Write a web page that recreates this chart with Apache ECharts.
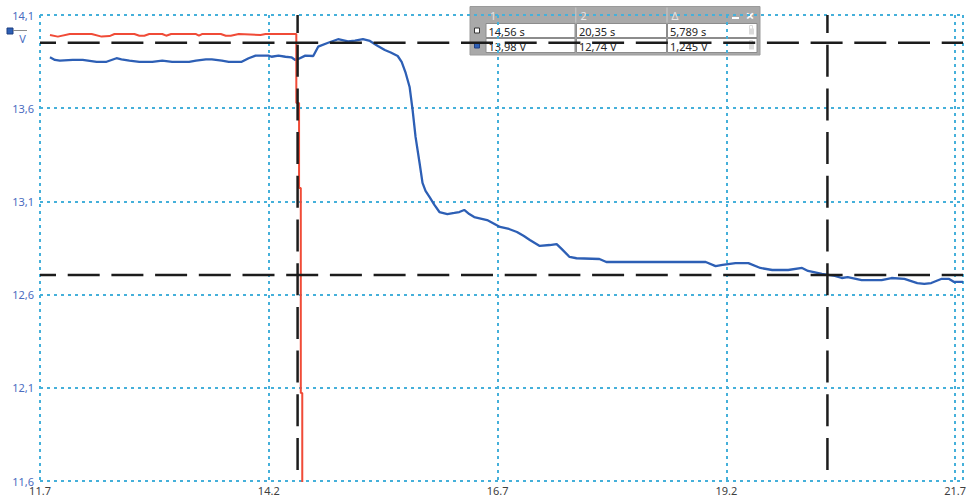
<!DOCTYPE html>
<html>
<head>
<meta charset="utf-8">
<style>
  html, body { margin: 0; padding: 0; background: #ffffff; }
  #chart { width: 969px; height: 498px; }
</style>
<script src="https://cdn.jsdelivr.net/npm/echarts@6/dist/echarts.min.js"></script>
</head>
<body>
<div id="chart"></div>
<script>
// ---- axis origin and tick labels ----
const T0 = 11.7;          // time at left edge of grid (s)
const V0 = 11.6;          // voltage at bottom of grid (V)
const T_STEP = 2.5;
const V_STEP = 0.5;
const T_MAX = 10.087;     // visible time span past T0
const xTickLabels = ['11.7', '14.2', '16.7', '19.2', '21.7'];
const yTickLabels = ['11,6', '12,1', '12,6', '13,1', '13,6', '14,1'];

// ---- blue trace (time s, volt V) ----
const blueTime = [11.809, 11.863, 11.917, 12.058, 12.167, 12.319, 12.427, 12.536, 12.590, 12.677,
  12.786, 12.927, 13.036, 13.144, 13.329, 13.405, 13.513, 13.578, 13.687, 13.763,
  13.904, 13.980, 14.056, 14.197, 14.230, 14.306, 14.382, 14.447, 14.490, 14.523,
  14.599, 14.686, 14.740, 14.849, 14.957, 15.066, 15.142, 15.229, 15.305, 15.392,
  15.468, 15.533, 15.609, 15.652, 15.696, 15.739, 15.772, 15.804, 15.848, 15.880,
  15.913, 15.956, 16.010, 16.065, 16.152, 16.228, 16.282, 16.336, 16.391, 16.445,
  16.586, 16.727, 16.825, 16.912, 16.988, 17.053, 17.161, 17.270, 17.346, 17.400,
  17.487, 17.563, 17.813, 17.889, 18.073, 18.975, 19.083, 19.159, 19.300, 19.441,
  19.572, 19.702, 19.876, 20.028, 20.093, 20.245, 20.386, 20.462, 20.527, 20.679,
  20.897, 21.005, 21.146, 21.287, 21.363, 21.439, 21.548, 21.635, 21.689, 21.787];
const blueVolt = [13.873, 13.859, 13.855, 13.859, 13.859, 13.849, 13.849, 13.868, 13.862, 13.855,
  13.849, 13.849, 13.855, 13.849, 13.849, 13.855, 13.862, 13.862, 13.855, 13.849,
  13.849, 13.868, 13.882, 13.882, 13.876, 13.882, 13.876, 13.873, 13.859, 13.864,
  13.882, 13.880, 13.930, 13.951, 13.970, 13.958, 13.963, 13.970, 13.961, 13.934,
  13.912, 13.899, 13.880, 13.848, 13.789, 13.714, 13.590, 13.446, 13.306, 13.199,
  13.156, 13.124, 13.081, 13.043, 13.032, 13.038, 13.043, 13.054, 13.032, 13.016,
  13.000, 12.963, 12.952, 12.936, 12.914, 12.893, 12.861, 12.866, 12.871, 12.845,
  12.802, 12.795, 12.791, 12.775, 12.775, 12.775, 12.753, 12.759, 12.769, 12.769,
  12.743, 12.732, 12.732, 12.743, 12.727, 12.711, 12.700, 12.689, 12.694, 12.678,
  12.678, 12.689, 12.684, 12.662, 12.657, 12.662, 12.684, 12.684, 12.668, 12.668];

// ---- red trace (time s, volt V) ----
const redTime = [11.809, 11.895, 12.026, 12.265, 12.373, 12.460, 12.514, 12.731, 12.786, 12.840,
  12.894, 13.036, 13.079, 13.133, 13.405, 13.437, 13.470, 13.676, 13.730, 13.785,
  13.872, 14.110, 14.165, 14.490, 14.501, 14.501, 14.531, 14.531, 14.550, 14.550,
  14.566, 14.566];
const redVolt = [13.993, 13.984, 13.998, 13.998, 13.984, 13.987, 13.998, 13.998, 13.989, 13.989,
  13.998, 13.998, 13.989, 13.998, 13.998, 13.989, 13.998, 13.998, 13.989, 13.989,
  13.998, 13.993, 13.998, 13.998, 13.998, 13.628, 13.628, 13.172, 13.172, 12.072,
  12.072, 11.580];

// ---- cursors ----
const cursorTimes = [14.515, 20.305];
const cursorVolts = [13.951, 12.705];

// ---- cursor table text ----
const tableHeader = ['1', '2', 'Δ'];
const tableRowTime = ['14,56 s', '20,35 s', '5,789 s'];
const tableRowVolt = ['13,98 V', '12,74 V', '1,245 V'];
const unitLabel = 'V';

// ---- build ----
function pairs(ts, vs) {
  return ts.map((t, i) => [t - T0, vs[i] - V0]);
}

const FONT = 'Noto Sans';
const gridColor = '#45b0da';

const chart = echarts.init(document.getElementById('chart'), null, { renderer: 'svg' });

const cursorSeries = [];
cursorVolts.forEach((v, i) => {
  cursorSeries.push({
    name: 'cursorV' + i, type: 'line', showSymbol: false, silent: true, z: 5, clip: true,
    data: [[0, v - V0], [T_MAX, v - V0]],
    lineStyle: { color: '#1c1c1c', width: 2.5, type: [32, 11.7], dashOffset: 15.7 }
  });
});
cursorTimes.forEach((t, i) => {
  cursorSeries.push({
    name: 'cursorT' + i, type: 'line', showSymbol: false, silent: true, z: 5, clip: true,
    data: [[t - T0, 2.5], [t - T0, 0]],
    lineStyle: { color: '#1c1c1c', width: 2.5, type: [32, 11.7], dashOffset: 14 }
  });
});

// table graphic
const TX = 470, TY = 6.5;
const colX = [486, 576.5, 667.5];
const colW = [89, 90, 89.5];
const rowY = [23.5, 38.5];
const tableEls = [];
tableEls.push({ type: 'rect', shape: { x: TX, y: TY, width: 290, height: 48.5 },
  style: { fill: '#a9a9a9', stroke: '#9a9a9a', lineWidth: 1 } });
[575.8, 667].forEach(x => tableEls.push({ type: 'line',
  shape: { x1: x, y1: TY + 1, x2: x, y2: 22.5 }, style: { stroke: '#c9c9c9', lineWidth: 1 } }));
tableHeader.forEach((h, i) => tableEls.push({ type: 'text',
  style: { x: colX[i] + 4, y: 15, text: h, fill: '#e4e4e4', font: '11px "' + FONT + '"', verticalAlign: 'middle' } }));
tableEls.push({ type: 'rect', shape: { x: 732, y: 17, width: 7, height: 2 }, style: { fill: '#ffffff' } });
tableEls.push({ type: 'text', style: { x: 750, y: 14.5, text: '×', fill: '#ffffff', font: 'bold 15px "' + FONT + '"', align: 'center', verticalAlign: 'middle' } });
[tableRowTime, tableRowVolt].forEach((row, r) => {
  row.forEach((txt, c) => {
    tableEls.push({ type: 'rect', shape: { x: colX[c], y: rowY[r], width: colW[c], height: 14 },
      style: { fill: '#ffffff', stroke: '#8c8c8c', lineWidth: 1 } });
    tableEls.push({ type: 'text', style: { x: colX[c] + 2.5, y: rowY[r] + 7.5, text: txt,
      fill: '#262626', font: '11px "' + FONT + '"', verticalAlign: 'middle' } });
  });
  // lock icon
  tableEls.push({ type: 'rect', shape: { x: 749, y: rowY[r] + 5, width: 5, height: 6 },
    style: { fill: '#dadada' } });
  tableEls.push({ type: 'rect', shape: { x: 749.5, y: rowY[r] + 2, width: 3, height: 4 },
    style: { fill: 'none', stroke: '#dadada', lineWidth: 1 } });
});
tableEls.push({ type: 'rect', shape: { x: 474.5, y: 28, width: 5, height: 5 },
  style: { fill: '#ffffff', stroke: '#333333', lineWidth: 1 } });
tableEls.push({ type: 'rect', shape: { x: 474.5, y: 43, width: 5, height: 5 },
  style: { fill: '#2d5fb5', stroke: '#1f3f80', lineWidth: 1 } });

const option = {
  backgroundColor: '#ffffff',
  animation: false,
  grid: { left: 40, right: 0, top: 15, bottom: 17, containLabel: false },
  xAxis: {
    type: 'value', min: 0, max: T_MAX, interval: T_STEP,
    axisLine: { show: false }, axisTick: { show: false },
    axisLabel: {
      color: '#404040', fontSize: 11, fontFamily: FONT, margin: 4, showMaxLabel: false,
      formatter: v => { const i = Math.round(v / T_STEP); return Math.abs(v - i * T_STEP) < 1e-6 ? (xTickLabels[i] || '') : ''; }
    },
    splitLine: { show: true, lineStyle: { color: gridColor, width: 2, type: [3, 4] } }
  },
  yAxis: {
    type: 'value', min: 0, max: 2.5, interval: V_STEP,
    axisLine: { show: false }, axisTick: { show: false },
    axisLabel: {
      color: '#4a6cbf', fontSize: 11, fontFamily: FONT, margin: 6,
      formatter: v => yTickLabels[Math.round(v / V_STEP)] || ''
    },
    splitLine: { show: true, lineStyle: { color: gridColor, width: 2, type: [3, 4] } }
  },
  series: [
    {
      name: 'blue', type: 'line', data: pairs(blueTime, blueVolt), showSymbol: false,
      lineStyle: { color: '#2d5fb5', width: 2.3 }, clip: true, z: 3
    },
    {
      name: 'red', type: 'line', data: pairs(redTime, redVolt), showSymbol: false,
      lineStyle: { color: '#f04b37', width: 2 }, clip: true, z: 4
    }
  ].concat(cursorSeries),
  graphic: [
    { type: 'rect', z: 10, shape: { x: 7, y: 28, width: 6, height: 6 }, style: { fill: '#2d5fb5', stroke: '#1f3f80', lineWidth: 1 } },
    { type: 'line', z: 10, shape: { x1: 13, y1: 30.5, x2: 27, y2: 30.5 }, style: { stroke: '#8a8a8a', lineWidth: 1 } },
    { type: 'text', z: 10, style: { x: 22.5, y: 38.5, text: unitLabel, fill: '#4a6cbf', font: '11px "' + FONT + '"', align: 'center', verticalAlign: 'middle' } },
    { type: 'group', z: 20, children: tableEls }
  ]
};
chart.setOption(option);
</script>
</body>
</html>
